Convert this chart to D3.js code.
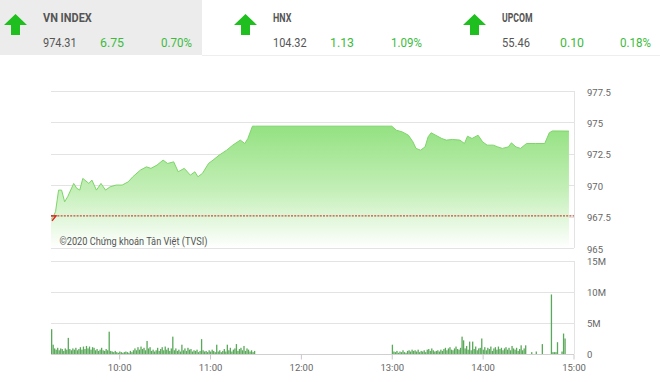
<!DOCTYPE html>
<html>
<head>
<meta charset="utf-8">
<script src="https://cdn.jsdelivr.net/npm/d3@7"></script>
<style>
html,body{margin:0;padding:0;background:#fff;}
svg{display:block;font-family:Roboto,"Noto Sans",sans-serif;}
</style>
</head>
<body>
<svg id="chart" width="660" height="382"></svg>
<script>
// ---------- DATA ----------
const indexNames    = ["VN INDEX", "HNX", "UPCOM"];
const indexValues   = ["974.31", "104.32", "55.46"];
const indexChanges  = ["6.75", "1.13", "0.10"];
const indexPercents = ["0.70%", "1.09%", "0.18%"];

const referencePrice = 967.56;

const priceTimes = ["09:15","09:16","09:18","09:20","09:22","09:24","09:26","09:30","09:32","09:34","09:36","09:40","09:42","09:45","09:48","09:51","09:54","09:58","10:02","10:06","10:09","10:14","10:18","10:21","10:25","10:29","10:32","10:36","10:39","10:43","10:47","10:50","10:52","10:55","10:59","11:02","11:06","11:11","11:15","11:20","11:23","11:25","11:28","11:30",
 "13:00","13:03","13:07","13:11","13:14","13:16","13:19","13:22","13:24","13:26","13:29","13:33","13:36","13:40","13:45","13:48","13:50","13:53","13:57","14:00","14:03","14:07","14:10","14:13","14:17","14:19","14:22","14:25","14:29","14:35","14:41","14:44","14:46","14:57"];
const priceValues = [967.3,967.36,967.89,969.61,969.61,968.68,969.08,970.14,969.75,969.61,970.54,970.14,970.41,969.61,970.14,969.61,969.87,970.01,970.01,970.27,970.67,971.2,971.46,971.34,971.6,972.0,971.73,971.86,971.07,971.34,970.8,971.07,970.67,970.94,971.73,972.0,972.39,972.79,973.19,973.59,973.32,973.72,974.7,974.7,
 974.7,974.38,974.24,973.98,973.45,972.93,972.79,973.05,973.85,974.17,973.98,973.72,973.59,973.64,973.59,973.32,973.9,973.72,973.98,973.45,973.19,973.19,973.05,972.93,973.05,973.37,973.05,972.93,973.32,973.32,973.32,974.17,974.32,974.31];

// volume in millions, one per minute from the start time
const volMorningStart = "09:15";
const volMorning = [4.0,1.5,0.9,0.7,1.0,0.6,0.9,0.8,0.5,0.9,
 0.7,2.6,0.8,0.6,0.9,0.7,1.0,0.6,0.8,1.1,
 0.7,1.2,0.8,1.3,0.9,1.2,0.7,1.1,1.0,0.6,
 0.8,0.5,0.7,1.0,0.6,0.5,0.8,0.6,3.6,0.5,
 0.4,0.3,0.5,0.3,0.2,0.4,0.3,0.2,0.3,0.4,
 0.3,0.2,0.5,0.3,0.6,0.9,0.6,1.1,0.7,1.2,
 0.8,1.0,0.6,2.1,0.9,1.1,0.5,0.7,0.4,0.6,
 1.0,0.5,0.8,1.1,0.6,1.2,0.7,1.0,0.5,0.9,
 2.8,0.6,0.9,0.5,0.7,0.4,1.5,0.6,0.9,0.5,
 1.0,0.7,0.8,0.4,0.6,0.5,0.7,0.3,0.5,2.4,
 0.6,0.4,0.5,0.3,0.6,0.4,0.7,0.5,0.3,1.5,
 0.4,0.6,0.3,0.5,0.8,0.4,1.5,0.6,1.0,0.4,
 0.7,0.9,1.6,0.5,0.8,1.0,0.6,1.3,0.5,0.9,
 0.7,0.4,0.6,0.3,0.5];
const volAfternoonStart = "13:00";
const volAfternoon = [1.5,0.4,0.3,0.5,0.2,0.4,0.3,0.6,0.3,0.2,
 0.5,0.6,0.4,0.7,0.5,0.6,0.4,0.7,0.3,0.5,
 0.4,0.6,0.3,0.7,0.8,0.5,0.9,0.6,0.4,0.5,
 0.6,0.4,0.7,0.5,0.8,1.0,0.6,0.9,1.1,0.7,
 0.6,0.9,1.2,0.8,0.7,1.0,2.8,2.2,0.9,1.3,
 0.7,2.0,0.6,2.0,0.8,1.2,0.6,0.9,1.0,2.5,
 0.7,1.1,0.6,1.0,0.8,1.2,0.5,0.9,1.1,0.7,
 1.2,0.8,1.0,0.6,0.9,1.1,0.7,1.0,0.6,1.3,
 0.9,0.7,1.0,0.5,0.8,1.4,0.6,0.9,1.4];
const volLateTimes = ["14:32","14:35","14:39","14:45","14:46","14:47","14:48","14:49","14:52","14:53","14:54"];
const volLate      = [0.3,0.4,1.6,9.6,0.3,0.3,0.3,1.9,0.4,3.3,2.5];

const priceTicks = [965, 967.5, 970, 972.5, 975, 977.5];
const volTicks = [0, 5, 10, 15];
const volTickLabels = ["0", "5M", "10M", "15M"];
const timeTicks = ["10:00","11:00","12:00","13:00","14:00","15:00"];
const watermark = "©2020 Chứng khoán Tân Việt (TVSI)";

// ---------- HELPERS ----------
const toMin = s => { const [h,m] = s.split(":").map(Number); return h*60+m; };
const fmtMin = m => String(Math.floor(m/60)).padStart(2,"0")+":"+String(m%60).padStart(2,"0");

const svg = d3.select("#chart");
const L = 51, R = 574;

const x = d3.scaleLinear().domain([toMin("09:15"), toMin("15:00")]).range([L, 573.5]);
const yP = d3.scaleLinear().domain([965, 977.5]).range([248, 91]);
const yV = d3.scaleLinear().domain([0, 15]).range([354, 261]);

// ---------- HEADER ----------
svg.append("rect").attr("x",0).attr("y",0).attr("width",202).attr("height",55).attr("fill","#ececec");
svg.append("line").attr("x1",202).attr("x2",660).attr("y1",55.5).attr("y2",55.5).attr("stroke","#eeeeee");

const headerX = [0, 230, 459];
const green = "#3dbb3d";
indexNames.forEach((name, i) => {
  const g = svg.append("g").attr("transform", `translate(${headerX[i]},0)`);
  // up arrow
  g.append("path")
    .attr("d","M4,25 L15.5,14 L27,25 L20,25 L20,35 L11,35 L11,25 Z")
    .attr("fill","#1fbf1f");
  g.append("text").attr("x",43).attr("y",22).text(name)
    .attr("font-size",12).attr("font-weight","bold").attr("fill","#555")
    .attr("textLength", name.length*6.1).attr("lengthAdjust","spacingAndGlyphs");
  g.append("text").attr("x",43).attr("y",47).text(indexValues[i])
    .attr("font-size",13).attr("fill","#555")
    .attr("textLength", indexValues[i].length*5.6).attr("lengthAdjust","spacingAndGlyphs");
  g.append("text").attr("x",[124,124,125][i]).attr("y",47).attr("text-anchor","end").text(indexChanges[i])
    .attr("font-size",13).attr("fill",green)
    .attr("textLength", indexChanges[i].length*6).attr("lengthAdjust","spacingAndGlyphs");
  g.append("text").attr("x",192).attr("y",47).attr("text-anchor","end").text(indexPercents[i])
    .attr("font-size",13).attr("fill",green)
    .attr("textLength", indexPercents[i].length*6.2).attr("lengthAdjust","spacingAndGlyphs");
});

// ---------- PRICE CHART ----------
const gridCol = "#e3e3e3";
svg.append("g").selectAll("line").data(priceTicks).join("line")
  .attr("x1",L).attr("x2",R).attr("y1",d=>Math.round(yP(d))+0.5).attr("y2",d=>Math.round(yP(d))+0.5)
  .attr("stroke",gridCol);
svg.append("line").attr("x1",R+0.5).attr("x2",R+0.5).attr("y1",yP(977.5)).attr("y2",yP(965)).attr("stroke",gridCol);

const defs = svg.append("defs");
const grad = defs.append("linearGradient").attr("id","pg").attr("gradientUnits","userSpaceOnUse")
  .attr("x1",0).attr("x2",0).attr("y1",120).attr("y2",248);
grad.append("stop").attr("offset",0).attr("stop-color","#8fe07c");
grad.append("stop").attr("offset",0.55).attr("stop-color","#c4efb8");
grad.append("stop").attr("offset",1).attr("stop-color","#ffffff");

const pdata = priceTimes.map((t,i)=>({t:toMin(t), v:priceValues[i]}));
const area = d3.area().x(d=>x(d.t)).y0(yP(965)).y1(d=>yP(d.v));
const line = d3.line().x(d=>x(d.t)).y(d=>yP(d.v));
svg.append("path").datum(pdata).attr("d",area).attr("fill","url(#pg)");
svg.append("path").datum(pdata).attr("d",line).attr("fill","none").attr("stroke","#7fd46c").attr("stroke-width",1);

// reference line
svg.append("line").attr("x1",L).attr("x2",R).attr("y1",yP(referencePrice)).attr("y2",yP(referencePrice))
  .attr("stroke","#c0523a").attr("stroke-width",1.2).attr("stroke-dasharray","2,1.2");
svg.append("path").attr("d",`M${L},${yP(referencePrice)} L${L+5},${yP(referencePrice)} L${L+1},${yP(referencePrice)+5}`)
  .attr("fill","none").attr("stroke","#e02020").attr("stroke-width",1.4);

svg.append("text").attr("x",59.5).attr("y",245).text(watermark)
  .attr("font-size",11).attr("fill","#555")
  .attr("textLength",148).attr("lengthAdjust","spacingAndGlyphs");

svg.append("g").selectAll("text").data(priceTicks).join("text")
  .attr("x",587).attr("y",d=>yP(d)+4.5).text(d=>String(d))
  .attr("font-size",9.5).attr("fill","#666");

// ---------- VOLUME CHART ----------
svg.append("g").selectAll("line").data(volTicks.slice(1)).join("line")
  .attr("x1",L).attr("x2",R).attr("y1",d=>Math.round(yV(d))+0.5).attr("y2",d=>Math.round(yV(d))+0.5)
  .attr("stroke",gridCol);
svg.append("line").attr("x1",R+0.5).attr("x2",R+0.5).attr("y1",yV(15)).attr("y2",yV(0)).attr("stroke",gridCol);

const vdata = [];
volMorning.forEach((v,i)=>vdata.push({t:toMin(volMorningStart)+i, v}));
volAfternoon.forEach((v,i)=>vdata.push({t:toMin(volAfternoonStart)+i, v}));
volLateTimes.forEach((t,i)=>vdata.push({t:toMin(t), v:volLate[i]}));

svg.append("g").selectAll("rect").data(vdata).join("rect")
  .attr("x",d=>x(d.t)).attr("width",1.3)
  .attr("y",d=>yV(d.v)).attr("height",d=>yV(0)-yV(d.v))
  .attr("fill","#5aa85a");

// x axis
const xAxis = d3.axisBottom(x).tickValues(timeTicks.map(toMin)).tickFormat(fmtMin).tickSize(5).tickSizeOuter(0);
const ax = svg.append("g").attr("transform",`translate(0,${Math.round(yV(0))+0.5})`).call(xAxis);
ax.select(".domain").attr("stroke","#d0d0d0").attr("d",`M${L},0H${R}`);
ax.selectAll(".tick line").attr("stroke","#c8c8c8");
ax.selectAll(".tick text").attr("fill","#666").attr("font-size",9.5).attr("font-family","Roboto").attr("dy","0.9em");

svg.append("g").selectAll("text").data(volTicks).join("text")
  .attr("x",587).attr("y",d=>yV(d)+4).text((d,i)=>volTickLabels[i])
  .attr("font-size",9.5).attr("fill","#666");
</script>
</body>
</html>
